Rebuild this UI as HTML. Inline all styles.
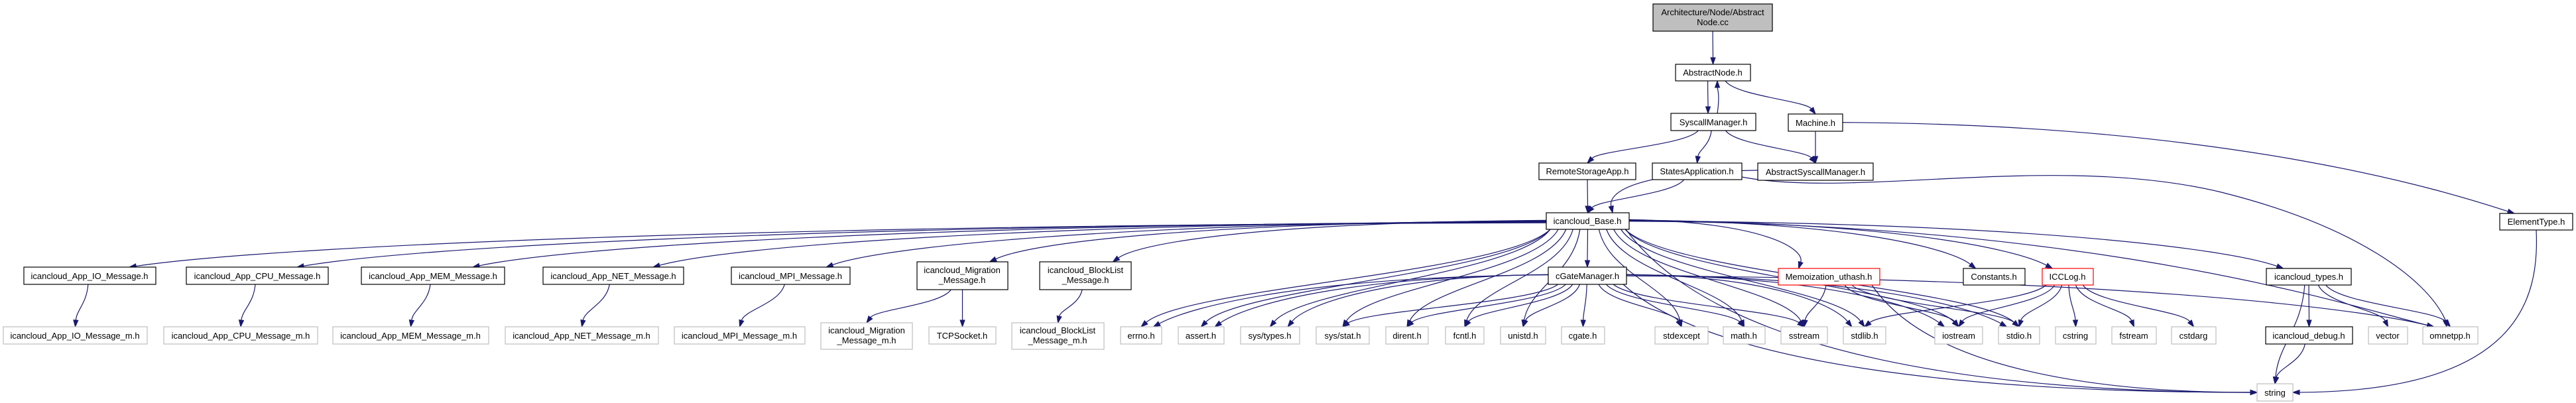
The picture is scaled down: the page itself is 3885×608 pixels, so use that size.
<!DOCTYPE html>
<html><head><meta charset="utf-8"><style>
html,body{margin:0;padding:0;background:#fff;}
svg{display:block;}
text{font-family:"Liberation Sans",Arial,sans-serif;font-size:13px;fill:#000;text-anchor:middle;}
.b{fill:#fff;stroke:#000;stroke-width:1.2;}
.g{fill:#fff;stroke:#bfbfbf;stroke-width:1.2;}
.r{fill:#fff;stroke:#ff0000;stroke-width:1.2;}
</style></head><body>
<svg id="sv" width="3885" height="608" viewBox="0 0 3885 608" xmlns="http://www.w3.org/2000/svg">
<g id="edges" fill="none" stroke="#191970" stroke-width="1.2"></g>
<g id="heads" fill="#191970" stroke="#191970"></g>
<g id="nodes">
<rect x="2493" y="6" width="180" height="41" fill="#bfbfbf" stroke="#000" stroke-width="1.2"/>
<text x="2583" y="23">Architecture/Node/Abstract</text><text x="2583" y="38">Node.cc</text>
<rect class="b" x="2527" y="97" width="113" height="25"/><text x="2583" y="114">AbstractNode.h</text>
<rect class="b" x="2520" y="171" width="128" height="26"/><text x="2584" y="189">SyscallManager.h</text>
<rect class="b" x="2697" y="172" width="82" height="26"/><text x="2738" y="190">Machine.h</text>
<rect class="b" x="2321" y="246" width="146" height="25"/><text x="2394" y="263">RemoteStorageApp.h</text>
<rect class="b" x="2492" y="246" width="135" height="25"/><text x="2559" y="263">StatesApplication.h</text>
<rect class="b" x="2651" y="246" width="174" height="26"/><text x="2738" y="264">AbstractSyscallManager.h</text>
<rect class="b" x="2332" y="321" width="125" height="25"/><text x="2394" y="338">icancloud_Base.h</text>
<rect class="b" x="3770" y="322" width="110" height="25"/><text x="3825" y="339">ElementType.h</text>

<rect class="b" x="36" y="403" width="199" height="26"/><text x="135" y="421">icancloud_App_IO_Message.h</text>
<rect class="b" x="281" y="403" width="214" height="26"/><text x="388" y="421">icancloud_App_CPU_Message.h</text>
<rect class="b" x="545" y="403" width="216" height="26"/><text x="653" y="421">icancloud_App_MEM_Message.h</text>
<rect class="b" x="819" y="403" width="212" height="26"/><text x="925" y="421">icancloud_App_NET_Message.h</text>
<rect class="b" x="1103" y="403" width="179" height="26"/><text x="1192" y="421">icancloud_MPI_Message.h</text>
<rect class="b" x="1383" y="395" width="137" height="42"/><text x="1451" y="412">icancloud_Migration</text><text x="1451" y="427">_Message.h</text>
<rect class="b" x="1568" y="395" width="138" height="42"/><text x="1637" y="412">icancloud_BlockList</text><text x="1637" y="427">_Message.h</text>
<rect class="b" x="2335" y="403" width="118" height="26"/><text x="2394" y="421">cGateManager.h</text>
<rect class="r" x="2682" y="405" width="153" height="25"/><text x="2758" y="422">Memoization_uthash.h</text>
<rect class="b" x="2961" y="405" width="93" height="25"/><text x="3007" y="422">Constants.h</text>
<rect class="r" x="3080" y="405" width="77" height="25"/><text x="3118" y="422">ICCLog.h</text>
<rect class="b" x="3418" y="405" width="128" height="25"/><text x="3482" y="422">icancloud_types.h</text>

<rect class="g" x="5" y="493" width="217" height="26"/><text x="113" y="511">icancloud_App_IO_Message_m.h</text>
<rect class="g" x="247" y="493" width="232" height="26"/><text x="363" y="511">icancloud_App_CPU_Message_m.h</text>
<rect class="g" x="502" y="493" width="235" height="26"/><text x="619" y="511">icancloud_App_MEM_Message_m.h</text>
<rect class="g" x="762" y="493" width="231" height="26"/><text x="877" y="511">icancloud_App_NET_Message_m.h</text>
<rect class="g" x="1017" y="493" width="197" height="26"/><text x="1115" y="511">icancloud_MPI_Message_m.h</text>
<rect class="g" x="1238" y="487" width="138" height="40"/><text x="1307" y="503">icancloud_Migration</text><text x="1307" y="518">_Message_m.h</text>
<rect class="g" x="1401" y="493" width="101" height="26"/><text x="1451" y="511">TCPSocket.h</text>
<rect class="g" x="1526" y="487" width="139" height="40"/><text x="1595" y="503">icancloud_BlockList</text><text x="1595" y="518">_Message_m.h</text>
<rect class="g" x="1690" y="493" width="62" height="26"/><text x="1721" y="511">errno.h</text>
<rect class="g" x="1777" y="493" width="69" height="26"/><text x="1811" y="511">assert.h</text>
<rect class="g" x="1871" y="493" width="89" height="26"/><text x="1915" y="511">sys/types.h</text>
<rect class="g" x="1985" y="493" width="80" height="26"/><text x="2025" y="511">sys/stat.h</text>
<rect class="g" x="2090" y="493" width="64" height="26"/><text x="2122" y="511">dirent.h</text>
<rect class="g" x="2180" y="493" width="58" height="26"/><text x="2209" y="511">fcntl.h</text>
<rect class="g" x="2263" y="493" width="68" height="26"/><text x="2297" y="511">unistd.h</text>
<rect class="g" x="2355" y="493" width="65" height="26"/><text x="2387" y="511">cgate.h</text>
<rect class="g" x="2496" y="493" width="80" height="26"/><text x="2536" y="511">stdexcept</text>
<rect class="g" x="2599" y="493" width="63" height="26"/><text x="2630" y="511">math.h</text>
<rect class="g" x="2686" y="493" width="70" height="26"/><text x="2721" y="511">sstream</text>
<rect class="g" x="2780" y="493" width="64" height="26"/><text x="2812" y="511">stdlib.h</text>
<rect class="g" x="2918" y="493" width="72" height="26"/><text x="2954" y="511">iostream</text>
<rect class="g" x="3014" y="493" width="62" height="26"/><text x="3045" y="511">stdio.h</text>
<rect class="g" x="3100" y="493" width="61" height="26"/><text x="3130" y="511">cstring</text>
<rect class="g" x="3185" y="493" width="67" height="26"/><text x="3218" y="511">fstream</text>
<rect class="g" x="3275" y="493" width="67" height="26"/><text x="3308" y="511">cstdarg</text>
<rect class="b" x="3417" y="493" width="131" height="26"/><text x="3482" y="511">icancloud_debug.h</text>
<rect class="g" x="3572" y="493" width="59" height="26"/><text x="3601" y="511">vector</text>
<rect class="g" x="3654" y="493" width="83" height="26"/><text x="3695" y="511">omnetpp.h</text>
<rect class="g" x="3404" y="579" width="54" height="26"/><text x="3431" y="597">string</text>
</g>
</svg>
<script>
var N={
root:[2493,6,2673,47],an:[2527,97,2640,122],sm:[2520,171,2648,197],mach:[2697,172,2779,198],
rsa:[2321,246,2467,271],sa:[2492,246,2627,271],asm:[2651,246,2825,272],base:[2332,321,2457,346],
et:[3770,322,3880,347],io:[36,403,235,429],cpu:[281,403,495,429],mem:[545,403,761,429],net:[819,403,1031,429],
mpi:[1103,403,1282,429],mig:[1383,395,1520,437],bl:[1568,395,1706,437],cgm:[2335,403,2453,429],
memo:[2682,405,2835,430],cons:[2961,405,3054,430],icc:[3080,405,3157,430],types:[3418,405,3546,430],
io_m:[5,493,222,519],cpu_m:[247,493,479,519],mem_m:[502,493,737,519],net_m:[762,493,993,519],mpi_m:[1017,493,1214,519],
mig_m:[1238,487,1376,527],tcp:[1401,493,1502,519],bl_m:[1526,487,1665,527],errno:[1690,493,1752,519],assert:[1777,493,1846,519],
st:[1871,493,1960,519],ss:[1985,493,2065,519],dirent:[2090,493,2154,519],fcntl:[2180,493,2238,519],unistd:[2263,493,2331,519],
cgate:[2355,493,2420,519],stdexcept:[2496,493,2576,519],math:[2599,493,2662,519],sstream:[2686,493,2756,519],stdlib:[2780,493,2844,519],
iostream:[2918,493,2990,519],stdio:[3014,493,3076,519],cstring:[3100,493,3161,519],fstream:[3185,493,3252,519],cstdarg:[3275,493,3342,519],
debug:[3417,493,3548,519],vector:[3572,493,3631,519],omnetpp:[3654,493,3737,519],string:[3404,579,3458,605]};
var E=[["root","an"],["an","sm"],["an","mach"],["sm","rsa"],["sm","sa"],["sm","asm"],["mach","asm"],["mach","et"],
["rsa","base"],["sa","base"],["asm","base"],["sa","omnetpp"],["et","string"],
["io","io_m"],["cpu","cpu_m"],["mem","mem_m"],["net","net_m"],["mpi","mpi_m"],["mig","mig_m"],["mig","tcp"],["bl","bl_m"],
["base","io"],["base","cpu"],["base","mem"],["base","net"],["base","mpi"],["base","mig"],["base","bl"],["base","cgm"],
["base","errno"],["base","assert"],["base","st"],["base","ss"],["base","dirent"],["base","fcntl"],["base","unistd"],
["base","stdexcept"],["base","math"],["base","sstream"],["base","stdlib"],["base","iostream"],["base","stdio"],
["base","memo"],["base","cons"],["base","icc"],["base","types"],["base","omnetpp"],["base","string"],
["cgm","errno"],["cgm","assert"],["cgm","st"],["cgm","ss"],["cgm","dirent"],["cgm","fcntl"],["cgm","unistd"],["cgm","cgate"],
["cgm","stdexcept"],["cgm","math"],["cgm","sstream"],["cgm","stdlib"],["cgm","iostream"],["cgm","stdio"],["cgm","omnetpp"],["cgm","string"],
["memo","sstream"],["memo","iostream"],["memo","stdio"],["memo","string"],
["icc","stdlib"],["icc","iostream"],["icc","stdio"],["icc","cstring"],["icc","fstream"],["icc","cstdarg"],
["types","string"],["types","debug"],["types","vector"],["types","omnetpp"],["debug","string"]];
var ns="http://www.w3.org/2000/svg",eg=document.getElementById("edges"),hg=document.getElementById("heads");
function add(d){var p=document.createElementNS(ns,"path");p.setAttribute("d",d);eg.appendChild(p);}
function head(tx,ty,cx,cy){var dx=tx-cx,dy=ty-cy,l=Math.hypot(dx,dy)||1;dx/=l;dy/=l;var L=10,W=3.5;
var bx=tx-dx*L,by=ty-dy*L;var p=document.createElementNS(ns,"polygon");
p.setAttribute("points",tx+","+ty+" "+(bx-dy*W)+","+(by+dx*W)+" "+(bx+dy*W)+","+(by-dx*W));hg.appendChild(p);return [bx,by];}
function mid(a){return [(a[0]+a[2])/2,(a[1]+a[3])/2];}
E.forEach(function(e){var s=N[e[0]],t=N[e[1]];var sc=mid(s),tc=mid(t);
var sx,sy,tx,ty,c1x,c1y,c2x,c2y,h;
if(e[1]=="string"&&e[0]!="types"&&e[0]!="debug"){
 ty=592; tx=(sc[0]<tc[0])?t[0]:t[2];
 sx=Math.max(s[0]+5,Math.min(s[2]-5,sc[0]+(tx-sc[0])*0.1)); sy=s[3];
 if(e[0]=="et"){sx=3825;c1x=3830;c1y=450;c2x=3800;c2y=590;}
 else{c1x=sx+(tx-sx)*0.15;c1y=sy+(ty-sy)*0.8;c2x=tx+(sx-tx)*0.4;c2y=ty;}
 h=head(tx,ty,c2x,c2y);add("M"+sx+","+sy+" C"+c1x+","+c1y+" "+c2x+","+c2y+" "+h[0]+","+h[1]);return;}
if(e[0]=="sm"&&e[1]=="an"){}
var dx=tc[0]-sc[0],dy=t[1]-s[3];
tx=tc[0];ty=t[1];
if(e[0]=="sa"&&e[1]=="omnetpp"){sx=s[2];sy=s[3]-4;c1x=2900;c1y=300;c2x=3600;c2y=260;tx=3690;
 h=head(tx,ty,3680,440);add("M"+sx+","+sy+" C2800,300 3100,230 3350,290 C3550,340 3660,420 "+h[0]+","+h[1]);return;}
if(Math.abs(dx)>300&&Math.abs(dx)>6*dy){ sx=dx<0?s[0]:s[2]; sy=sc[1]-3+Math.min(6,Math.abs(dx)/400);
 c1x=sx+dx*0.55;c1y=sy+3;c2x=tx+(sx-tx)*0.12;c2y=ty-30;
 tx=tx+(dx<0?Math.min(60,(t[2]-t[0])*0.3):-Math.min(60,(t[2]-t[0])*0.3));}
else { sx=Math.max(s[0]+6,Math.min(s[2]-6,sc[0]+dx*0.12)); sy=s[3];
 c1x=sx+dx*0.1;c1y=sy+dy*0.45;c2x=tx-dx*0.1;c2y=ty-dy*0.4;}
if(e[0]=="an"&&e[1]=="sm"){sx-=8;tx-=8;c1x=sx;c2x=tx;}
h=head(tx,ty,c2x,c2y);
add("M"+sx+","+sy+" C"+c1x+","+c1y+" "+c2x+","+c2y+" "+h[0]+","+h[1]);});
(function(){var tx=2590,ty=122;var h=head(tx,ty,tx,ty+20);add("M2590,171 C2593,150 2592,140 "+h[0]+","+h[1]);})();
</script>
</body></html>
